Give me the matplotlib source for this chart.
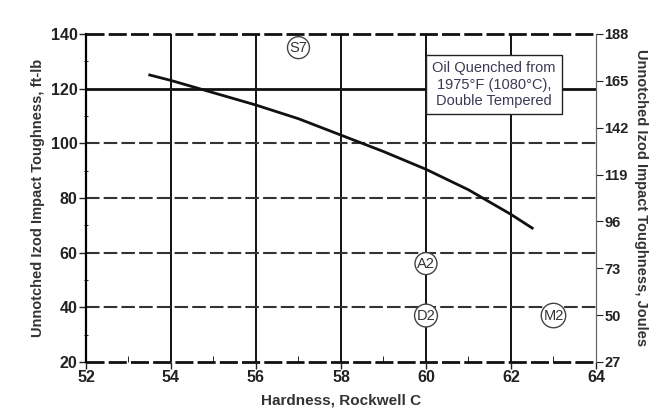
import matplotlib.pyplot as plt
from matplotlib.ticker import MultipleLocator

plt.rcParams["font.family"] = ["Liberation Sans", "DejaVu Sans"]

# curve: hardness (HRC) vs toughness (ft-lb)
hardness = [53.5, 54.0, 55.0, 56.0, 57.0, 58.0, 59.0, 60.0, 61.0, 62.0, 62.5]
toughness = [125.0, 123.0, 118.5, 114.0, 109.0, 103.0, 97.0, 90.5, 83.0, 74.0, 69.0]

# competing grades
grade_names = ["S7", "A2", "D2", "M2"]
grade_hrc = [57.0, 60.0, 60.0, 63.0]
grade_ftlb = [135.0, 56.0, 37.0, 37.0]

y_ticks = [20, 40, 60, 80, 100, 120, 140]
x_ticks = [52, 54, 56, 58, 60, 62, 64]
joule_ticks = [27, 50, 73, 96, 119, 142, 165, 188]

note = "Oil Quenched from\n1975°F (1080°C),\nDouble Tempered"

fig = plt.figure(figsize=(6.65, 4.17), dpi=100)
ax = fig.add_axes([0.1293, 0.1319, 0.7669, 0.7866])

# grid: solid verticals, dashed horizontals, solid 120 line
for x in x_ticks[1:-1]:
    ax.axvline(x, color="#111111", linewidth=1.4, zorder=1)
for y in [40, 60, 80, 100]:
    ax.axhline(y, color="#333333", linewidth=1.5, linestyle=(0, (6.5, 2)), zorder=1)
ax.axhline(120, color="#111111", linewidth=2.0, zorder=1)
ax.axhline(140, color="#111111", linewidth=2.0, linestyle=(0, (6.5, 1.5)), zorder=1, clip_on=False)
ax.axhline(20, color="#111111", linewidth=2.0, linestyle=(0, (6.5, 1.5)), zorder=1, clip_on=False)

ax.plot(hardness, toughness, color="#111111", linewidth=2.0, zorder=3)

for name, hx, hy in zip(grade_names, grade_hrc, grade_ftlb):
    ax.text(hx, hy, name, ha="center", va="center", fontsize=10.5, color="#333333",
            zorder=5,
            bbox=dict(boxstyle="circle,pad=0.14", facecolor="white",
                      edgecolor="#444444", linewidth=1.0))

ax.text(61.6, 121.5, note, ha="center", va="center", fontsize=10.5,
        color="#3a3a55", linespacing=1.2, zorder=5,
        bbox=dict(boxstyle="square,pad=0.45", facecolor="white",
                  edgecolor="#222222", linewidth=1.0))

ax.set_xlim(52, 64)
ax.set_ylim(20, 140)
ax.set_xticks(x_ticks)
ax.set_yticks(y_ticks)
ax.xaxis.set_minor_locator(MultipleLocator(1))
ax.yaxis.set_minor_locator(MultipleLocator(10))
ax.tick_params(axis="both", which="major", labelsize=11.5, length=5, width=1.0,
               direction="out", pad=1, colors="#222222")
ax.tick_params(axis="x", which="minor", length=4, direction="in")
ax.tick_params(axis="y", which="minor", length=3, direction="inout")
for lbl in ax.get_xticklabels() + ax.get_yticklabels():
    lbl.set_fontweight("bold")

ax.spines["top"].set_visible(False)
ax.spines["bottom"].set_visible(False)
ax.spines["left"].set_linewidth(1.6)
ax.spines["right"].set_color("#666666")

ax.set_xlabel("Hardness, Rockwell C", fontsize=11, fontweight="bold",
              color="#333333", labelpad=6)
ax.set_ylabel("Unnotched Izod Impact Toughness, ft-lb", fontsize=10.5,
              fontweight="bold", color="#333333", labelpad=4)

ax2 = ax.twinx()
ax2.set_ylim(27, 188)
ax2.set_yticks(joule_ticks)
ax2.tick_params(axis="y", labelsize=10.5, length=5, pad=1, colors="#222222")
for lbl in ax2.get_yticklabels():
    lbl.set_fontweight("bold")
for side in ["top", "bottom", "left"]:
    ax2.spines[side].set_visible(False)
ax2.spines["right"].set_color("#666666")
ax2.set_ylabel("Unnotched Izod Impact Toughness, Joules", fontsize=10.5,
               fontweight="bold", color="#333333", rotation=-90, labelpad=14)

fig.savefig("out.png", dpi=100)
